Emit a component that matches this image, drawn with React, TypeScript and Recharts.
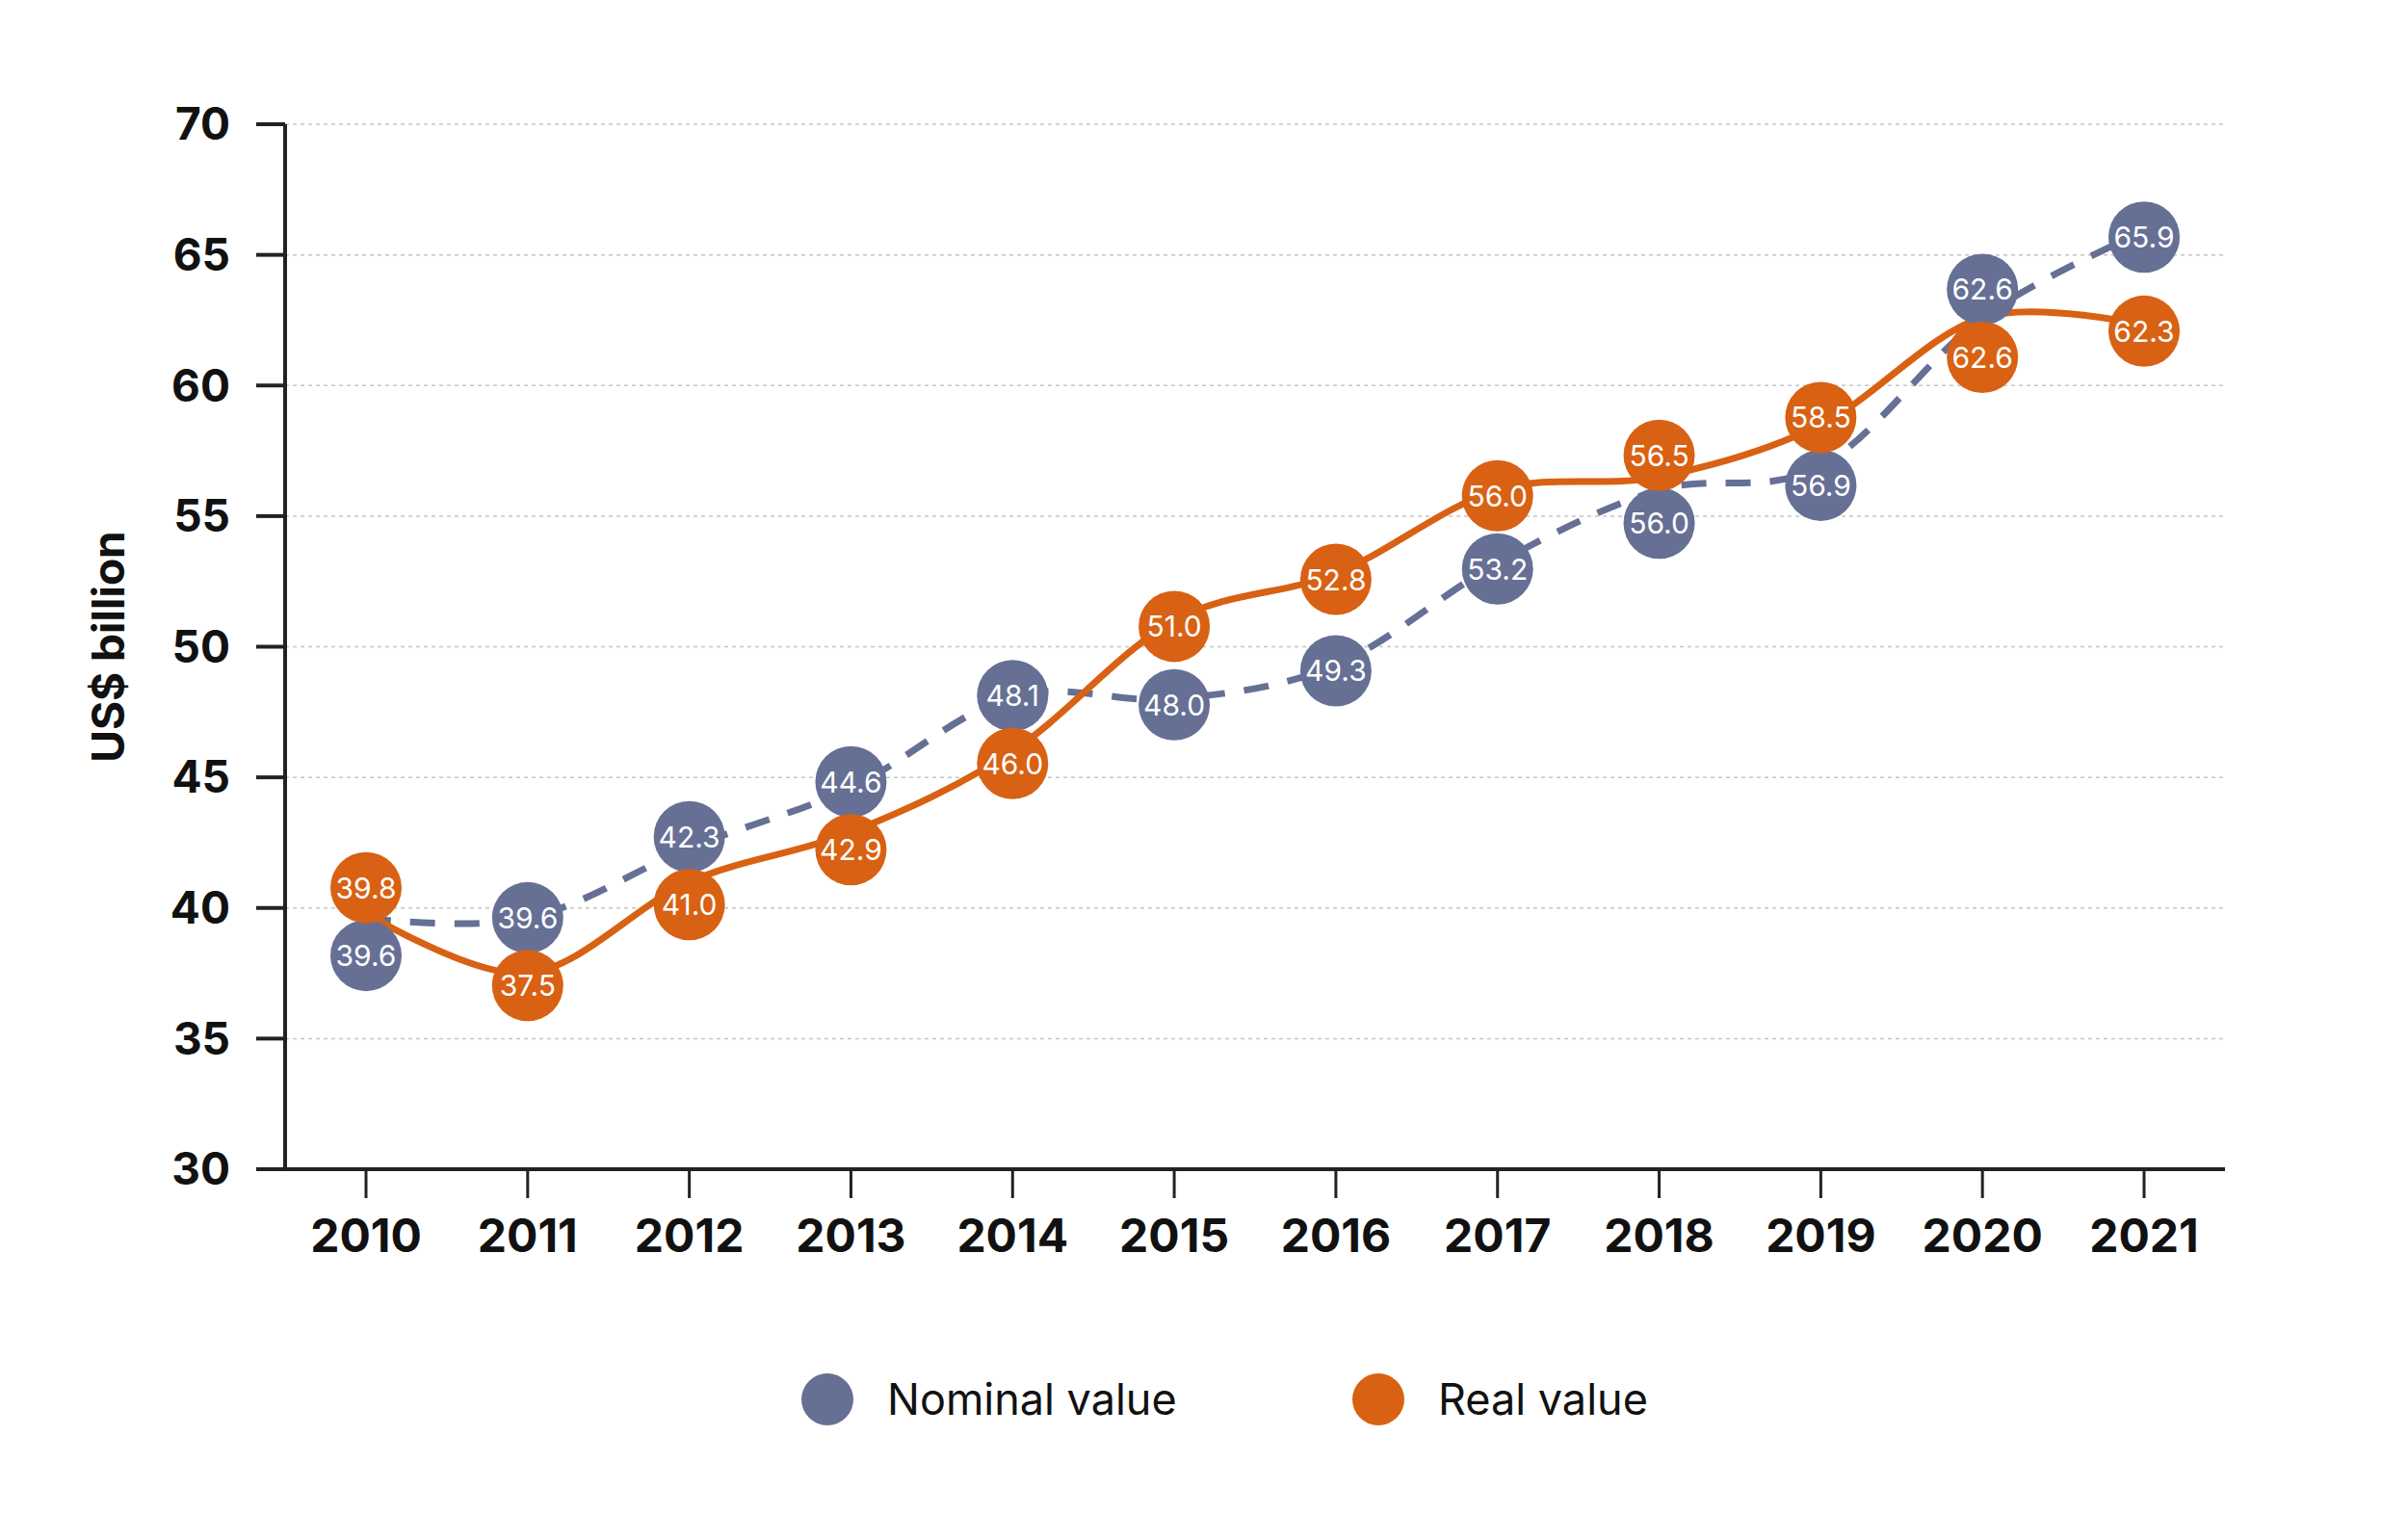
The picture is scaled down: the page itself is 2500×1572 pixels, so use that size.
import { LineChart, Line, XAxis, YAxis, CartesianGrid } from 'recharts';

const years = ['2010', '2011', '2012', '2013', '2014', '2015', '2016', '2017', '2018', '2019', '2020', '2021'];
const nominal = [39.6, 39.6, 42.3, 44.6, 48.1, 48.0, 49.3, 53.2, 56.0, 56.9, 62.6, 65.9];
const real = [39.8, 37.5, 41.0, 42.9, 46.0, 51.0, 52.8, 56.0, 56.5, 58.5, 62.6, 62.3];
const yTicks = [30, 35, 40, 45, 50, 55, 60, 65, 70];

const NOMINAL_COLOR = '#667095';
const REAL_COLOR = '#d86113';
const FONT = 'Inter, "Noto Sans", sans-serif';

// push label bubbles apart when the two values sit too close together
const MIN_GAP = 2.6;
const data = years.map((year, i) => {
  const n = nominal[i];
  const r = real[i];
  let nDot = n;
  let rDot = r;
  if (Math.abs(n - r) < MIN_GAP) {
    const mid = (n + r) / 2;
    const sign = n >= r ? 1 : -1;
    nDot = mid + (sign * MIN_GAP) / 2;
    rDot = mid - (sign * MIN_GAP) / 2;
  }
  return { year, nominal: n, real: r, nominalDot: nDot, realDot: rDot };
});

// cardinal spline (tension 0), same maths as d3's curveCardinal
class Cardinal {
  _context: any;
  _k = 1 / 6;
  _line = NaN;
  _point = 0;
  _x0 = NaN; _x1 = NaN; _x2 = NaN;
  _y0 = NaN; _y1 = NaN; _y2 = NaN;
  constructor(context: any) {
    this._context = context;
  }
  areaStart() { this._line = 0; }
  areaEnd() { this._line = NaN; }
  lineStart() {
    this._x0 = this._x1 = this._x2 = this._y0 = this._y1 = this._y2 = NaN;
    this._point = 0;
  }
  lineEnd() {
    switch (this._point) {
      case 2: this._context.lineTo(this._x2, this._y2); break;
      case 3: this.bez(this._x1, this._y1); break;
    }
    if (this._line || (this._line !== 0 && this._point === 1)) this._context.closePath();
    this._line = 1 - this._line;
  }
  bez(x: number, y: number) {
    this._context.bezierCurveTo(
      this._x1 + this._k * (this._x2 - this._x0),
      this._y1 + this._k * (this._y2 - this._y0),
      this._x2 + this._k * (this._x1 - x),
      this._y2 + this._k * (this._y1 - y),
      this._x2,
      this._y2,
    );
  }
  point(x: number, y: number) {
    x = +x; y = +y;
    switch (this._point) {
      case 0:
        this._point = 1;
        if (this._line) this._context.lineTo(x, y);
        else this._context.moveTo(x, y);
        break;
      case 1:
        this._point = 2;
        this._x1 = x; this._y1 = y;
        break;
      case 2:
        this._point = 3;
        this.bez(x, y);
        break;
      default:
        this.bez(x, y);
        break;
    }
    this._x0 = this._x1; this._x1 = this._x2; this._x2 = x;
    this._y0 = this._y1; this._y1 = this._y2; this._y2 = y;
  }
}
const cardinal: any = (context: any) => new Cardinal(context);

// bubbles sit a touch below the point, like the original
const DOT_SHIFT = 6;

const makeDot = (fill: string, key: 'nominal' | 'real') => (props: any) => {
  const { cx, cy, payload, index } = props;
  if (cx == null || cy == null) return <g key={`${key}-${index}`} />;
  const y = cy + DOT_SHIFT;
  return (
    <g key={`${key}-${index}`}>
      <circle cx={cx} cy={y} r={37} fill={fill} />
      <text
        x={cx}
        y={y}
        textAnchor="middle"
        dominantBaseline="central"
        fill="#fff"
        fontSize={30}
        fontFamily={FONT}
      >
        {payload[key].toFixed(1)}
      </text>
    </g>
  );
};

function LegendItem({ color, label, width }: { color: string; label: string; width: number }) {
  return (
    <div style={{ display: 'flex', alignItems: 'center', width }}>
      <span style={{ width: 54, height: 54, borderRadius: '50%', background: color, display: 'inline-block' }} />
      <span style={{ marginLeft: 35, fontSize: 45, fontFamily: FONT, color: '#111' }}>{label}</span>
    </div>
  );
}

export default function App() {
  return (
    <div style={{ position: 'absolute', left: 0, top: 0, width: 2500, height: 1572, background: '#fff' }}>
      <LineChart width={2500} height={1572} data={data} margin={{ top: 129, right: 190, bottom: 258, left: 0 }}>
        <CartesianGrid vertical={false} stroke="#c4c4c4" strokeWidth={1.5} strokeDasharray="4 4" />
        <XAxis
          dataKey="year"
          height={100}
          padding={{ left: 84, right: 84 }}
          axisLine={{ stroke: '#222', strokeWidth: 4 }}
          tickLine={{ stroke: '#222', strokeWidth: 3 }}
          tickSize={30}
          tickMargin={22}
          tick={{ fill: '#111', fontSize: 48, fontWeight: 700, fontFamily: FONT }}
          interval={0}
        />
        <YAxis
          width={296}
          domain={[30, 70]}
          ticks={yTicks}
          allowDataOverflow
          axisLine={{ stroke: '#222', strokeWidth: 4 }}
          tickLine={{ stroke: '#222', strokeWidth: 4 }}
          tickSize={30}
          tickMargin={27}
          tick={{ fill: '#111', fontSize: 46, fontWeight: 700, fontFamily: FONT }}
          label={{
            value: 'US$ billion',
            angle: -90,
            position: 'center',
            dx: -35,
            style: { fill: '#111', fontSize: 46, fontWeight: 700, fontFamily: FONT },
          }}
        />
        <Line
          type={cardinal}
          dataKey="nominal"
          stroke={NOMINAL_COLOR}
          strokeWidth={7}
          strokeDasharray="26 20"
          dot={false}
          activeDot={false}
          isAnimationActive={false}
        />
        <Line
          type={cardinal}
          dataKey="real"
          stroke={REAL_COLOR}
          strokeWidth={7}
          dot={false}
          activeDot={false}
          isAnimationActive={false}
        />
        <Line
          dataKey="nominalDot"
          stroke="none"
          dot={makeDot(NOMINAL_COLOR, 'nominal')}
          activeDot={false}
          isAnimationActive={false}
        />
        <Line
          dataKey="realDot"
          stroke="none"
          dot={makeDot(REAL_COLOR, 'real')}
          activeDot={false}
          isAnimationActive={false}
        />
      </LineChart>
      <div style={{ position: 'absolute', top: 1425, left: 832, display: 'flex' }}>
        <LegendItem color={NOMINAL_COLOR} label="Nominal value" width={572} />
        <LegendItem color={REAL_COLOR} label="Real value" width={400} />
      </div>
    </div>
  );
}
